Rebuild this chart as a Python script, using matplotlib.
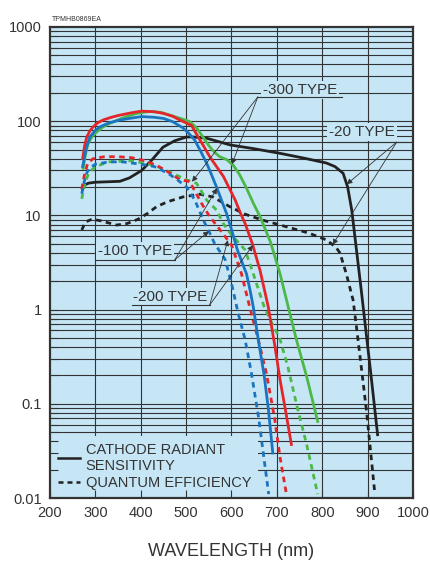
import numpy as np
import matplotlib
matplotlib.use('Agg')
import matplotlib.pyplot as plt

# spectral response data
# -100 type (blue)
wl_blue_s = [272, 280, 288, 300, 310, 330, 354, 380, 402, 430, 450, 470, 493, 505, 519, 532, 545, 556, 567,
             578, 589, 601, 613, 623, 633, 641, 648, 659, 672, 681, 691]
cr_blue_s = [33, 52, 68, 80, 87, 96, 103, 108, 112, 110, 107, 99, 85, 75, 63, 48, 36, 27, 20,
             14.5, 10.5, 6.8, 4.3, 3.2, 2.4, 1.6, 1.07, 0.48, 0.2, 0.09, 0.03]
wl_blue_d = [270, 278, 285, 300, 330, 360, 400, 430, 460, 480, 501, 519, 538, 552, 563, 575, 586, 600, 615,
             630, 644, 660, 670, 682]
qe_blue_d = [17, 26, 31, 35, 37, 37, 35, 33, 28, 24, 20, 14.6, 8.9, 6.5, 5.0, 4.1, 3.4, 1.9, 0.9,
             0.48, 0.21, 0.07, 0.03, 0.011]
# -200 type (red)
wl_red_s = [272, 276, 281, 288, 295, 305, 317, 335, 354, 380, 402, 430, 450, 470, 486, 500, 512, 525, 538, 552,
            567, 582, 595, 608, 620, 630, 646, 663, 681, 696, 707, 720, 732]
cr_red_s = [40, 54, 68, 79, 87, 96, 103, 110, 116, 123, 128, 126, 121, 113, 103, 96, 90, 70, 55, 42,
            33, 26, 19.5, 14.6, 10.5, 8.2, 5.0, 2.6, 1.07, 0.4, 0.18, 0.08, 0.037]
wl_red_d = [270, 276, 283, 295, 320, 350, 380, 410, 435, 460, 486, 508, 534, 552, 575, 600, 622, 640, 659,
            677, 695, 707, 721]
qe_red_d = [19, 27, 36, 40, 42, 42, 41, 38, 34, 29, 24, 22.8, 13.4, 9.7, 7.0, 4.85, 2.4, 1.07, 0.48,
            0.21, 0.07, 0.027, 0.011]
# -300 type (green)
wl_grn_s = [273, 278, 284, 293, 303, 317, 332, 360, 391, 420, 445, 464, 490, 508, 523, 537, 550, 562, 574, 590,
            604, 618, 633, 648, 663, 686, 707, 725, 743, 765, 790]
cr_grn_s = [31.6, 44, 58, 69, 77, 87, 95, 108, 121, 127, 124, 116, 106, 99, 85, 68, 55, 47, 42, 39,
            34, 27, 19.5, 13.5, 9.7, 5.2, 2.4, 1.07, 0.48, 0.2, 0.065]
wl_grn_d = [270, 277, 285, 300, 330, 380, 430, 470, 500, 523, 545, 567, 582, 597, 613, 630, 648, 672, 690,
            706, 724, 743, 765, 790]
qe_grn_d = [15, 22, 28, 33, 37, 38, 34, 28, 24, 21.9, 14.6, 11.4, 8.2, 6.5, 5.3, 4.3, 2.4, 1.07, 0.7,
            0.5, 0.25, 0.1, 0.038, 0.011]
# -20 type (black)
wl_blk_s = [272, 276, 285, 300, 354, 375, 402, 425, 449, 475, 501, 515, 545, 597, 650, 707, 760, 809, 828, 846,
            856, 865, 880, 886, 907, 922]
cr_blk_s = [19, 21, 22, 22.5, 23, 25, 30, 39, 53, 62, 68, 68, 66, 56, 51, 45.6, 40.5, 36, 33, 28,
            20, 11.4, 2.8, 1.6, 0.21, 0.047]
wl_blk_d = [270, 278, 292, 310, 347, 370, 394, 415, 435, 460, 493, 530, 559, 596, 630, 669, 720, 770, 809, 830,
            839, 853, 868, 876, 890, 898, 916]
qe_blk_d = [7, 8.5, 9.1, 8.8, 7.9, 8.2, 9.1, 10.5, 12.4, 14, 15.7, 16.8, 15.7, 12.4, 10.3, 8.9, 7.6, 6.5, 5.5, 4.6,
            4.0, 2.4, 1.26, 0.62, 0.17, 0.08, 0.011]

x_ticks = [200, 300, 400, 500, 600, 700, 800, 900, 1000]
y_ticks = [0.01, 0.1, 1, 10, 100, 1000]
y_ticklabels = ['0.01', '0.1', '1', '10', '100', '1000']

BG = '#c6e6f6'
INK = '#333333'
RED = '#e4262b'
GRN = '#4cb848'
BLU = '#1b74c0'
BLK = '#222222'

plt.rcParams['font.family'] = ['Liberation Sans', 'DejaVu Sans']

fig = plt.figure(figsize=(4.31, 5.66), dpi=100)
ax = fig.add_axes([50 / 431, 1 - 498 / 566, 363 / 431, 471 / 566])
ax.set_facecolor(BG)
ax.set_yscale('log')
ax.set_xlim(200, 1000)
ax.set_ylim(0.01, 1000)

# grid drawn by hand so the legend box can sit between grid and ticks
for xv in x_ticks[1:-1]:
    ax.axvline(xv, color=INK, lw=0.8, zorder=1)
for dec in [0.01, 0.1, 1, 10, 100]:
    for m in range(1, 10):
        if dec * m > 0.01:
            ax.axhline(dec * m, color=INK, lw=0.8, zorder=1)

dash = (2.0, 1.6)
lw = 2.0
ax.plot(wl_blk_s, cr_blk_s, color=BLK, lw=lw, zorder=3, label='CATHODE RADIANT\nSENSITIVITY')
ax.plot(wl_blk_d, qe_blk_d, color=BLK, lw=lw, dashes=dash, zorder=3, label='QUANTUM EFFICIENCY')
ax.plot(wl_grn_s, cr_grn_s, color=GRN, lw=lw, zorder=3)
ax.plot(wl_grn_d, qe_grn_d, color=GRN, lw=lw, dashes=dash, zorder=3)
ax.plot(wl_red_s, cr_red_s, color=RED, lw=lw, zorder=3)
ax.plot(wl_red_d, qe_red_d, color=RED, lw=lw, dashes=dash, zorder=3)
ax.plot(wl_blue_s, cr_blue_s, color=BLU, lw=lw, zorder=3)
ax.plot(wl_blue_d, qe_blue_d, color=BLU, lw=lw, dashes=dash, zorder=3)

ax.set_xticks(x_ticks)
ax.set_yticks(y_ticks)
ax.set_yticklabels(y_ticklabels)
ax.tick_params(axis='both', which='major', direction='in', length=6, width=0.8,
               colors=INK, labelsize=10.5, pad=6)
ax.tick_params(axis='y', which='minor', direction='in', length=6, width=0.8, color=INK)
ax.tick_params(axis='x', which='minor', bottom=False)
for s in ax.spines.values():
    s.set_linewidth(1.6)
    s.set_color(INK)
ax.set_axisbelow(False)

leg = ax.legend(loc='lower left', frameon=True, fontsize=10.5, handlelength=1.5,
                handletextpad=0.4, borderpad=0.45, labelspacing=0.2,
                borderaxespad=0.1, fancybox=False)
leg.get_frame().set_facecolor(BG)
leg.get_frame().set_edgecolor('none')
leg.get_frame().set_alpha(1)
leg.set_zorder(2)
for t in leg.get_texts():
    t.set_color(INK)
for h in leg.get_lines():
    h.set_linewidth(1.8)


def curve_at(wl, vals, x):
    return 10 ** np.interp(x, wl, np.log10(vals))


def label(text, tx, ty, x0, x1, uy, ax0, targets):
    ax.text(tx, ty, text, ha='center', va='center', fontsize=11, color=INK, zorder=5,
            bbox=dict(facecolor=BG, edgecolor='none', pad=1.5))
    ax.plot([x0, x1], [uy, uy], color=INK, lw=0.8, zorder=5)
    for tgt in targets:
        ax.annotate('', xy=tgt, xytext=(ax0, uy), zorder=5,
                    arrowprops=dict(arrowstyle='-|>', lw=0.6, color=INK,
                                    mutation_scale=8, shrinkA=0, shrinkB=0))


label('-300 TYPE', 751, 214, 656, 843, 181, 658,
      [(601, curve_at(wl_grn_s, cr_grn_s, 601)), (513, curve_at(wl_grn_d, qe_grn_d, 513))])
label('-20 TYPE', 887, 77, 810, 1000, 60, 964,
      [(854, curve_at(wl_blk_s, cr_blk_s, 854)), (823, curve_at(wl_blk_d, qe_blk_d, 823))])
label('-100 TYPE', 387, 4.2, 299, 475, 3.37, 475,
      [(568, curve_at(wl_blue_s, cr_blue_s, 568)), (550, curve_at(wl_blue_d, qe_blue_d, 550))])
label('-200 TYPE', 464, 1.36, 381, 552, 1.12, 552,
      [(592, curve_at(wl_red_d, qe_red_d, 592)), (647, curve_at(wl_red_s, cr_red_s, 647))])

ax.text(0.005, 1.008, 'TPMHB0869EA', transform=ax.transAxes, fontsize=5, color=INK,
        ha='left', va='bottom')
ax.set_xlabel('WAVELENGTH (nm)', fontsize=13, color=INK, labelpad=16)

fig.savefig('out.png', dpi=100, facecolor='white')
